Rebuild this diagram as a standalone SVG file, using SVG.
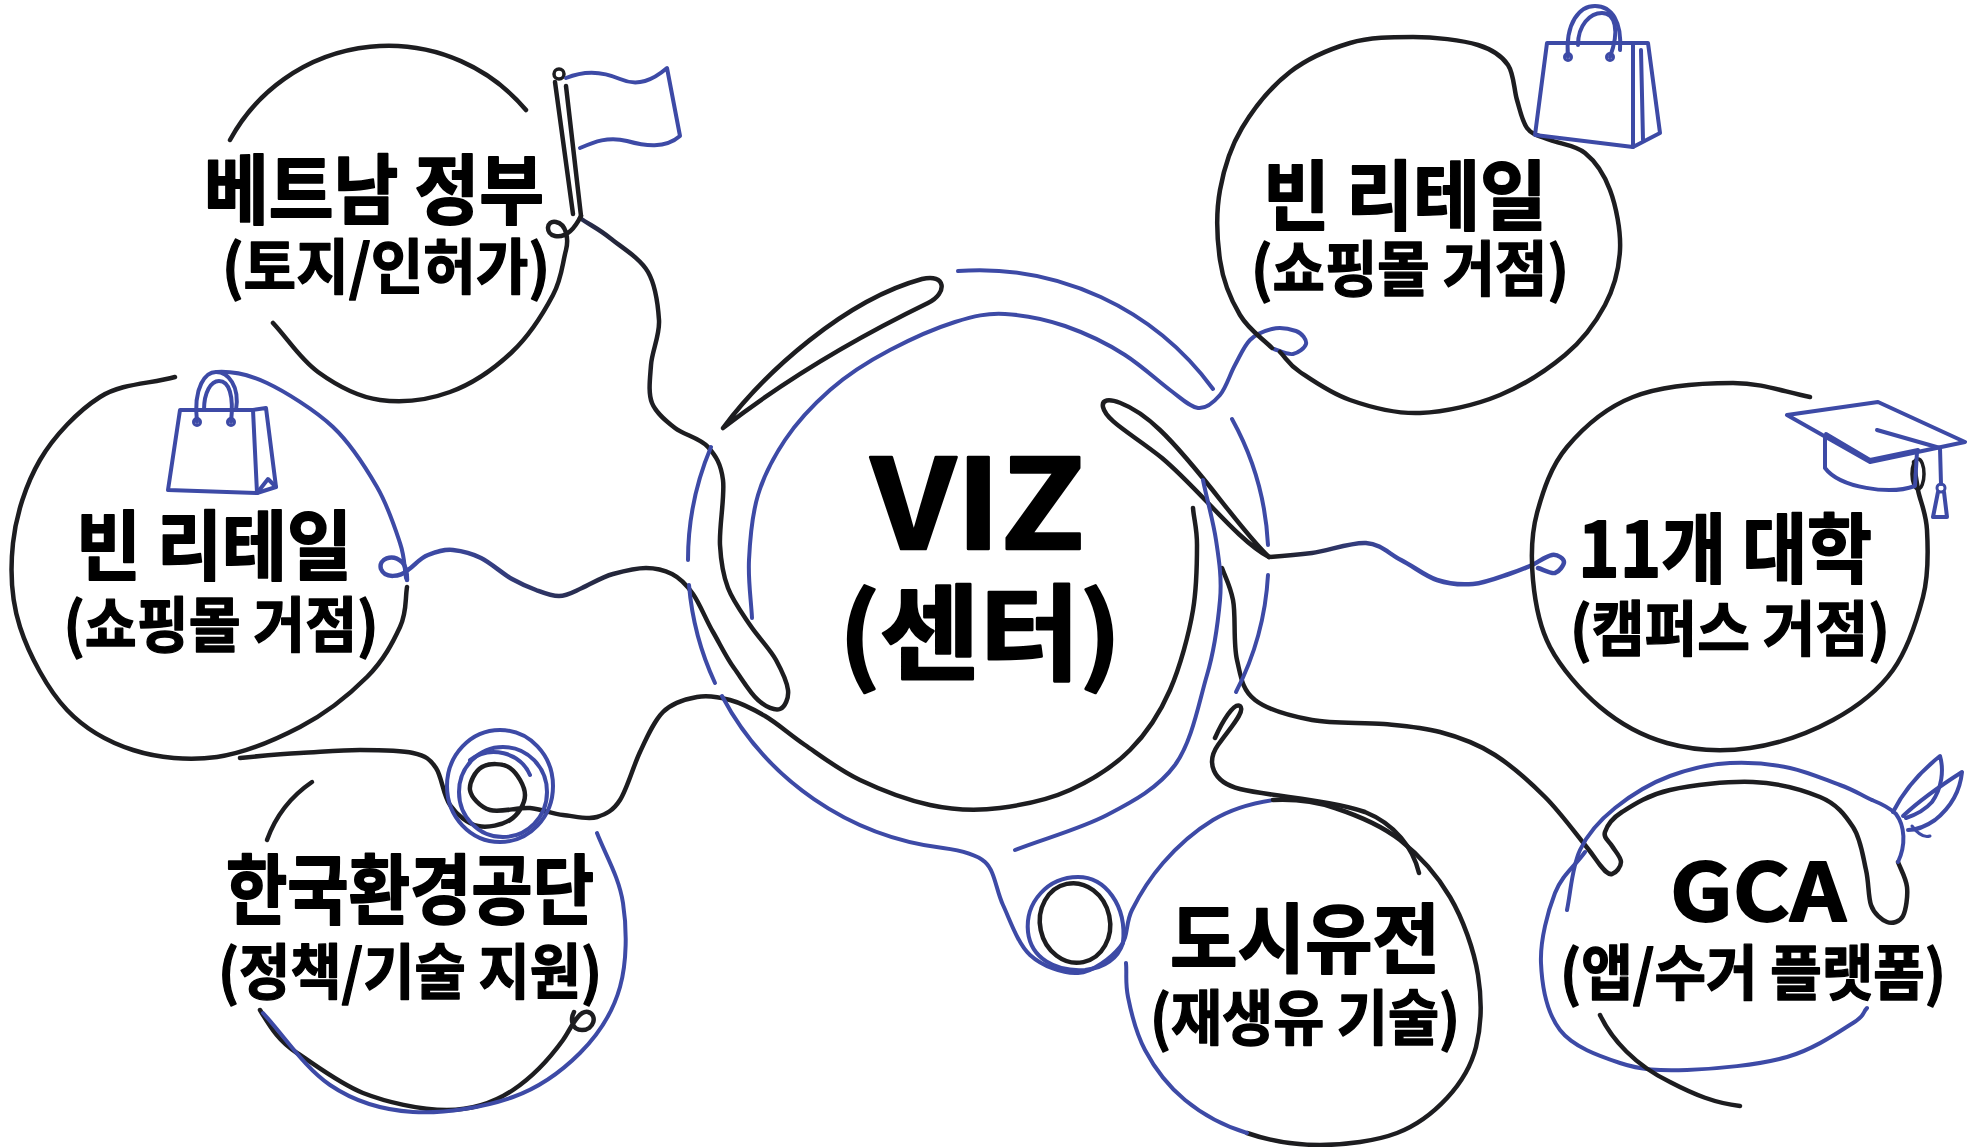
<svg xmlns="http://www.w3.org/2000/svg" width="1967" height="1147" viewBox="0 0 1967 1147">
  <defs>
    <style>
      .k{fill:none;stroke:#1d1d20;stroke-width:4.5;stroke-linecap:round;stroke-linejoin:round}
      .b{fill:none;stroke:#3d4aa6;stroke-width:4;stroke-linecap:round;stroke-linejoin:round}
      .t{font-family:"Noto Sans CJK KR","Noto Sans",sans-serif;font-weight:700;fill:#000;stroke:#000;stroke-linejoin:round;text-anchor:middle}
      .h1{font-size:76px;stroke-width:1.8px}
      .h2{font-size:60px;stroke-width:1.4px}
      .hub{stroke-width:2.6px}
    </style>
    <linearGradient id="gLeft" gradientUnits="userSpaceOnUse" x1="430" y1="0" x2="660" y2="0">
      <stop offset="0" stop-color="#3d4aa6"/>
      <stop offset="1" stop-color="#1d1d20"/>
    </linearGradient>
    <linearGradient id="gRight" gradientUnits="userSpaceOnUse" x1="1275" y1="0" x2="1390" y2="0">
      <stop offset="0" stop-color="#1d1d20"/>
      <stop offset="1" stop-color="#3d4aa6"/>
    </linearGradient>
  </defs>
  <rect width="1967" height="1147" fill="#ffffff"/>

  <!-- connecting strokes between the hub and the partner nodes -->
  <g id="connectors">
    <!-- flag pole down to the hub, hairpin, then over to the left retail node -->
    <path class="k" style="stroke:url(#gLeft)" d="M580,218 C590,225 599,229 610,238 S640,258 648,272 S658,305 659,320 S652,351 651,365 S648,393 652,403 S666,421 675,428 S700,438 708,447 S721,464 723,480 S719,527 720,545 S723,575 728,588 S742,613 750,625 S770,649 776,660 S787,682 788,690 S785,707 780,709 S766,707 758,700 S742,679 734,668 S720,644 713,632 S700,604 693,594 S680,578 672,574 S656,568 646,568 S624,571 613,574 S591,584 582,588 S567,596 559,596 S544,593 536,590 S521,584 512,579 S491,563 481,558 S462,551 453,550 S436,552 428,555 S415,565 408,570 C400,577 385,579 381,569 C378,559 392,553 402,562 C406,566 407,572 407,580"/>
    <!-- line from the left retail node, through the knot, round the hub's lower rim -->
    <path class="k" d="M240,758 C260,756 280,754 300,753 S341,750 360,750 S400,750 413,753 S430,759 436,768 S443,795 450,805 S468,824 478,826 S502,825 510,820 S525,804 525,795 S517,773 510,768 S489,763 482,767 S469,783 470,790 S480,807 490,810 S518,807 530,808 S552,814 563,815 S588,820 597,817 S613,811 620,800 S633,767 640,752 S654,721 663,712 S686,699 697,697 S719,697 730,700 S753,709 765,716 S789,734 805,745 S839,770 860,780 S907,800 930,805 S977,811 1000,808 S1048,800 1070,790 S1113,767 1130,750 S1160,713 1170,690 S1189,634 1193,610 S1197,562 1197,545 S1194,520 1193,508"/>
    <!-- inner blue ring of the hub, hooking up to the upper retail node -->
    <path class="b" d="M752,618 C751,599 748,581 749,560 S752,515 758,495 S773,458 785,440 S813,405 830,390 S869,361 890,350 S936,328 955,322 S987,313 1005,314 S1045,319 1065,326 S1108,344 1125,355 S1158,381 1170,390 S1190,407 1198,408 S1214,402 1220,395 S1230,374 1235,365 S1244,346 1250,340 S1264,331 1272,329 S1290,329 1296,331 S1307,340 1306,344 S1298,353 1293,354 S1280,351 1274,349"/>
    <!-- hairpin toward the universities node and its wave -->
    <path class="k" d="M1269,557 C1240,530 1200,468 1160,430 C1132,403 1100,392 1103,407 C1106,421 1132,434 1162,458 C1200,490 1237,540 1269,557"/>
    <path class="k" style="stroke:url(#gRight)" d="M1269,557 C1283,556 1296,555 1312,553 S1351,542 1366,543 S1389,554 1401,560 S1425,576 1437,580 S1461,585 1473,584 S1500,577 1509,574 S1523,569 1530,566 S1546,556 1552,555 S1564,559 1564,562 S1559,572 1555,573 S1544,570 1538,568"/>
    <!-- line toward the urban oil node -->
    <path class="k" d="M1215,738 C1222,722 1234,702 1240,706 C1246,711 1230,728 1218,745 C1206,762 1212,782 1240,789 C1275,797 1330,800 1365,812 C1395,824 1413,848 1419,873"/>
    <!-- line toward the GCA node, curling into its rim -->
    <path class="k" d="M1222,568 C1226,579 1230,585 1233,600 S1233,643 1237,660 S1242,690 1255,700 S1290,716 1312,720 S1363,722 1384,724 S1421,727 1440,732 S1478,744 1495,755 S1530,782 1545,797 S1576,834 1585,845 S1596,860 1600,865 S1608,875 1612,874 S1621,867 1621,862 S1615,851 1612,846 S1603,838 1605,832 S1611,819 1622,812 S1648,795 1670,790 S1728,781 1753,782 S1803,790 1820,797 S1845,815 1853,827 S1863,857 1866,870 S1868,896 1871,905 S1882,920 1887,922 S1900,922 1903,916 S1908,896 1907,887 S1901,870 1898,862"/>
    <!-- outer blue rim bottom, hooking round the small ring into the urban oil node -->
    <path class="b" d="M722,696 A290,290 0 0 0 943,848 C958,850 975,853 985,862 S996,890 1003,905 S1018,944 1030,955 S1063,974 1078,973 S1111,958 1120,947 S1125,924 1132,910 S1150,878 1163,863 S1195,831 1213,820 S1253,803 1273,800"/>
    <path class="b" d="M1123,943 C1127,905 1105,877 1078,877 C1048,877 1025,902 1028,932 C1031,958 1055,972 1085,970 C1105,968 1118,958 1123,943"/>
    <ellipse class="k" cx="1075" cy="923" rx="35" ry="40" transform="rotate(-12 1075 923)"/>
  </g>

  <!-- hub -->
  <g id="node-center">
    <path class="b" d="M958,271 A290,290 0 0 1 1213,389"/>
    <path class="b" d="M1232,419 A290,290 0 0 1 1268,545"/>
    <path class="b" d="M1268,575 A290,290 0 0 1 1236,692"/>
    <path class="b" d="M711,447 A290,290 0 0 0 688,560"/>
    <path class="b" d="M689,585 A290,290 0 0 0 715,683"/>
    <path class="b" d="M1203,480 C1207,500 1213,520 1216,540 S1222,578 1220,600 S1215,648 1207,675 S1192,742 1175,765 S1134,801 1107,815 S1046,838 1015,850"/>
    <path class="k" d="M723,428 C765,372 845,300 922,279 C946,273 948,293 928,303 C860,336 790,376 723,428 Z"/>
    <text class="t hub" x="978" y="549" font-size="124" textLength="214" lengthAdjust="spacingAndGlyphs">VIZ</text>
    <text class="t hub" x="980" y="672" font-size="104" textLength="282" lengthAdjust="spacingAndGlyphs">(센터)</text>
  </g>

  <!-- Vietnamese government -->
  <g id="node-vn-gov">
    <path class="k" d="M230,140 A180,180 0 0 1 526,110"/>
    <path class="k" d="M273,323 C288,339 300,359 318,372 S358,397 380,400 S428,400 450,392 S495,368 512,352 S544,312 553,295 S562,265 566,250 C569,238 566,224 556,222 C546,220 545,234 555,236 C566,238 575,228 581,216"/>
    <path class="k" d="M555,82 L573,214"/>
    <path class="k" d="M566,86 L581,216"/>
    <circle class="k" cx="559" cy="74" r="5" style="stroke-width:3.5"/>
    <path class="b" d="M566,78 C585,70 602,71 620,79 C638,87 653,80 667,68 L680,136 C665,149 645,146 627,141 C608,136 594,142 580,148"/>
    <text class="t h1" x="374" y="218" textLength="340" lengthAdjust="spacingAndGlyphs">베트남 정부</text>
    <text class="t h2" x="386" y="289" textLength="328" lengthAdjust="spacingAndGlyphs">(토지/인허가)</text>
  </g>

  <!-- Vin Retail, upper right -->
  <g id="node-retail-top">
    <path class="k" d="M1272,348 C1261,337 1249,330 1240,315 S1223,281 1220,260 S1216,212 1220,190 S1230,148 1242,128 S1272,86 1290,72 S1330,49 1350,43 S1392,37 1413,37 S1462,40 1478,45 S1502,56 1508,65 S1514,90 1517,100 S1522,121 1527,128 S1540,136 1550,140 S1575,145 1585,153 S1604,174 1610,190 S1621,231 1620,250 S1614,288 1605,305 S1583,340 1565,355 S1524,385 1500,395 S1445,412 1420,413 S1370,407 1350,400 S1312,380 1300,372 S1287,359 1280,352"/>
    <path class="b" d="M1547,43 L1535,135 L1633,147 L1633,43 Z"/>
    <path class="b" d="M1633,43 L1648,43 L1660,133 L1633,147"/>
    <path class="b" d="M1641,50 L1643,140"/>
    <path class="b" d="M1568,57 C1565,22 1580,6 1595,6 C1612,6 1622,22 1620,50"/>
    <path class="b" d="M1578,45 C1578,25 1590,13 1602,13 C1615,13 1620,30 1610,57"/>
    <circle class="b" cx="1568" cy="57" r="3.5" style="stroke-width:3"/>
    <circle class="b" cx="1610" cy="57" r="3.5" style="stroke-width:3"/>
    <text class="t h1" x="1405" y="224" textLength="284" lengthAdjust="spacingAndGlyphs">빈 리테일</text>
    <text class="t h2" x="1410" y="291" textLength="318" lengthAdjust="spacingAndGlyphs">(쇼핑몰 거점)</text>
  </g>

  <!-- Vin Retail, left -->
  <g id="node-retail-left">
    <path class="k" d="M175,377 C150,384 122,383 100,397 S54,436 40,460 S16,515 13,543 S11,599 20,627 S48,690 67,710 S108,742 133,750 S189,761 217,757 S275,740 300,727 S350,694 367,677 S393,642 400,627 S405,600 407,587"/>
    <path class="b" d="M217,372 C235,371 250,375 267,383 S315,410 333,427 S366,468 377,487 S395,528 400,543 S404,566 406,578"/>
    <path class="b" d="M180,410 L168,490 L257,493 L253,410 Z"/>
    <path class="b" d="M253,410 L266,408 L276,487 L257,493"/>
    <path class="b" d="M257,493 L268,479 L276,487"/>
    <path class="b" d="M197,422 C193,386 206,372 216,372 C228,372 240,386 236,410"/>
    <path class="b" d="M204,410 C204,392 211,381 219,381 C229,381 234,395 231,422"/>
    <circle class="b" cx="197" cy="422" r="3.5" style="stroke-width:3"/>
    <circle class="b" cx="231" cy="422" r="3.5" style="stroke-width:3"/>
    <text class="t h1" x="214" y="574" textLength="276" lengthAdjust="spacingAndGlyphs">빈 리테일</text>
    <text class="t h2" x="221" y="647" textLength="315" lengthAdjust="spacingAndGlyphs">(쇼핑몰 거점)</text>
  </g>

  <!-- 11 universities -->
  <g id="node-universities">
    <path class="k" d="M1810,397 C1784,392 1763,383 1733,383 S1661,386 1633,397 S1583,428 1567,447 S1543,491 1537,513 S1531,558 1533,580 S1539,626 1550,647 S1581,691 1600,707 S1642,736 1667,743 S1722,752 1750,748 S1809,733 1833,720 S1878,691 1893,670 S1917,620 1923,597 S1928,548 1927,530 S1920,501 1918,490 S1915,471 1914,462"/>
    <ellipse class="k" cx="1918" cy="474" rx="6" ry="15" style="stroke-width:3.5"/>
    <path class="b" d="M1787,415 L1878,402 L1965,442 L1870,462 Z"/>
    <path class="b" d="M1826,434 L1870,460 L1918,450"/>
    <path class="b" d="M1825,436 L1825,468 C1840,488 1890,495 1915,486 L1917,452"/>
    <path class="b" d="M1877,430 L1940,448 L1941,484"/>
    <circle class="b" cx="1941" cy="488" r="4" style="stroke-width:3"/>
    <path class="b" d="M1938,492 L1933,517 L1947,517 L1944,492"/>
    <text class="t h1" x="1725" y="577" textLength="294" lengthAdjust="spacingAndGlyphs">11개 대학</text>
    <text class="t h2" x="1730" y="651" textLength="320" lengthAdjust="spacingAndGlyphs">(캠퍼스 거점)</text>
  </g>

  <!-- Korea Environment Corporation -->
  <g id="node-keco">
    <ellipse class="b" cx="500" cy="786" rx="53" ry="56"/>
    <ellipse class="b" cx="503" cy="792" rx="44" ry="45"/>
    <path class="b" d="M470,760 C490,745 520,752 530,775"/>
    <path class="k" d="M267,840 C276,815 290,797 312,782"/>
    <path class="k" d="M260,1010 C272,1030 280,1042 297,1053 S340,1084 363,1093 S420,1110 447,1110 S495,1102 513,1090 S550,1058 563,1040 C570,1030 578,1010 588,1012 C598,1015 594,1030 582,1030 C572,1030 570,1020 574,1012"/>
    <path class="b" d="M597,833 C606,856 619,877 623,903 S627,962 620,987 S598,1035 580,1053 S541,1087 513,1097 S444,1114 413,1112 S355,1102 330,1085 S285,1037 263,1013"/>
    <text class="t h1" x="410" y="918" textLength="368" lengthAdjust="spacingAndGlyphs">한국환경공단</text>
    <text class="t h2" x="410" y="994" textLength="384" lengthAdjust="spacingAndGlyphs">(정책/기술 지원)</text>
  </g>

  <!-- Urban oil field -->
  <g id="node-urban-oil">
    <path class="k" d="M1273,800 C1293,799 1314,801 1335,808 S1381,825 1400,840 S1437,875 1450,897 S1474,950 1478,975 S1481,1027 1476,1047 S1460,1084 1447,1098 S1418,1125 1397,1133 S1345,1145 1320,1145 S1270,1141 1247,1133"/>
    <path class="b" d="M1247,1133 C1224,1126 1202,1114 1185,1100 S1154,1067 1145,1050 S1131,1012 1128,997 S1127,974 1126,963"/>
    <text class="t h1" x="1305" y="967" textLength="270" lengthAdjust="spacingAndGlyphs">도시유전</text>
    <text class="t h2" x="1305" y="1040" textLength="310" lengthAdjust="spacingAndGlyphs">(재생유 기술)</text>
  </g>

  <!-- GCA collection platform -->
  <g id="node-gca">
    <path class="b" d="M1872,800 C1861,795 1854,790 1840,785 S1808,772 1790,768 S1750,762 1730,763 S1689,769 1670,776 S1630,796 1615,808 S1588,833 1580,850 S1571,890 1567,910"/>
    <path class="b" d="M1585,852 C1575,866 1562,875 1555,893 S1540,940 1541,963 S1547,1013 1560,1030 S1599,1056 1620,1063 S1659,1071 1687,1070 S1759,1065 1787,1057 S1840,1031 1853,1023 S1862,1013 1867,1008"/>
    <path class="k" d="M1600,1015 C1612,1040 1635,1065 1670,1082 C1695,1095 1715,1103 1740,1106"/>
    <path class="b" d="M1872,800 C1882,804 1890,808 1896,814 C1905,826 1906,845 1898,862"/>
    <path class="b" d="M1893,812 C1903,792 1920,772 1940,756 C1944,770 1942,788 1932,802 C1925,810 1915,815 1906,818"/>
    <path class="b" d="M1903,816 C1920,800 1940,786 1962,772 C1960,792 1950,808 1935,820 C1925,827 1915,830 1908,830"/>
    <path class="b" d="M1912,826 C1918,834 1924,838 1930,836" style="stroke-width:3"/>
    <text class="t" x="1758" y="921" font-size="80" style="stroke-width:1.8px" textLength="176" lengthAdjust="spacingAndGlyphs">GCA</text>
    <text class="t h2" x="1753" y="995" textLength="386" lengthAdjust="spacingAndGlyphs">(앱/수거 플랫폼)</text>
  </g>
</svg>
